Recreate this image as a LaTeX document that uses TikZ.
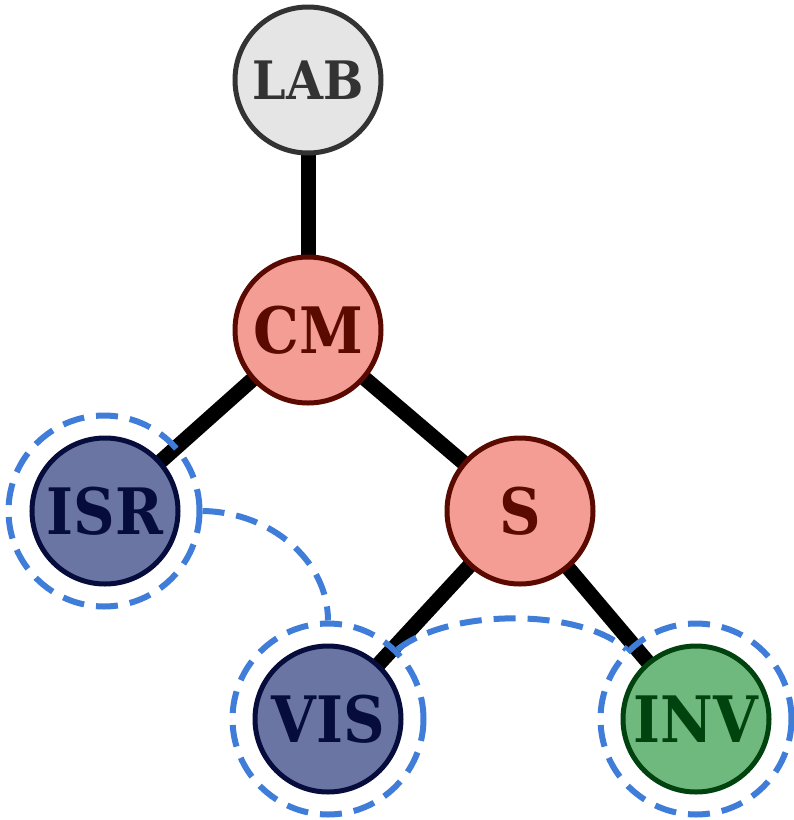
\documentclass[tikz,border=0pt]{standalone}
\usepackage{fontspec}
\setmainfont{DejaVu Serif Condensed}
\begin{document}
\begin{tikzpicture}[x=1pt,y=-1pt,
  nd/.style={circle,line width=5pt,minimum size=146pt,inner sep=0pt,font=\fontsize{64}{70}\selectfont\bfseries},
  labst/.style={nd,fill=labfill,draw=labdraw,text=labdraw,font=\fontsize{53}{60}\selectfont\bfseries},
  redst/.style={nd,fill=redfill,draw=reddraw,text=reddraw},
  bluest/.style={nd,fill=bluefill,draw=bluedraw,text=bluedraw},
  greenst/.style={nd,fill=greenfill,draw=greendraw,text=greendraw},
  ring/.style={circle,draw=dashblue,line width=6pt,dash pattern=on 22pt off 12pt,minimum size=191pt,inner sep=0pt},
  link/.style={draw=dashblue,line width=6pt,dash pattern=on 22pt off 12pt},
  edge/.style={line width=15pt,black}]
\definecolor{labfill}{HTML}{E5E5E5}
\definecolor{labdraw}{HTML}{333333}
\definecolor{redfill}{HTML}{F49D94}
\definecolor{reddraw}{HTML}{5A0A00}
\definecolor{bluefill}{HTML}{6A75A4}
\definecolor{bluedraw}{HTML}{060D3C}
\definecolor{greenfill}{HTML}{6FB87E}
\definecolor{greendraw}{HTML}{00430E}
\definecolor{dashblue}{HTML}{3F7DD8}
\useasboundingbox (0,0) rectangle (794,820);
\coordinate (lab) at (308,80);
\coordinate (cm) at (308,330);
\coordinate (isr) at (105,511);
\coordinate (s) at (520,511);
\coordinate (vis) at (328,719);
\coordinate (inv) at (696,719);
\draw[edge] (lab) -- (cm);
\draw[edge] (cm) -- (isr);
\draw[edge] (cm) -- (s);
\draw[edge] (s) -- (vis);
\draw[edge] (s) -- (inv);
\node[labst] (nlab) at (lab) {LAB};
\node[redst] (ncm) at (cm) {CM};
\node[bluest] (nisr) at (isr) {ISR};
\node[redst] (ns) at (s) {S};
\node[bluest] (nvis) at (vis) {VIS};
\node[greenst] (ninv) at (inv) {INV};
\node[ring] (risr) at (104,511) {};
\node[ring] (rvis) at (328,719) {};
\node[ring] (rinv) at (696,719) {};
\draw[link] (risr.east) .. controls (270,512) and (328,560) .. (rvis.north);
\draw[link] (rvis.45) .. controls (450,608) and (580,608) .. (rinv.135);
\end{tikzpicture}
\end{document}
